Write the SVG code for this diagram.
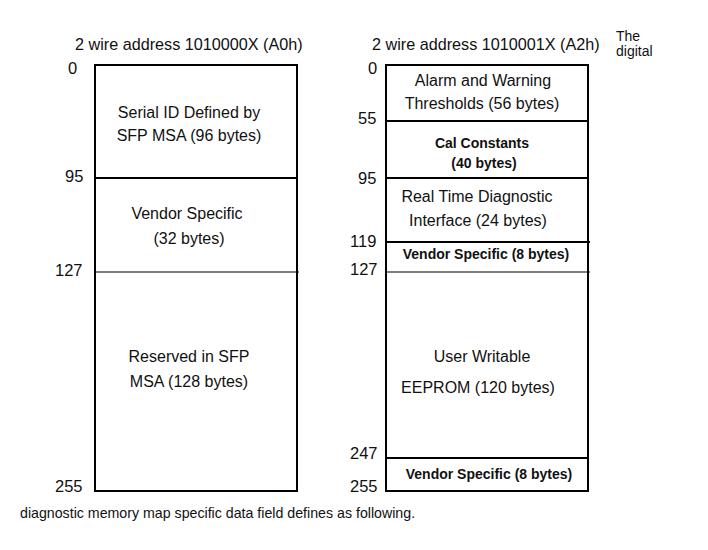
<svg xmlns="http://www.w3.org/2000/svg" width="708" height="550" viewBox="0 0 708 550">
<style>
text{font-family:"Liberation Sans",Arial,sans-serif;fill:#111}
.h{font-size:16.2px}
.n{font-size:16.5px}
.l{font-size:16px;text-anchor:middle}
.b{font-size:14px;font-weight:bold;text-anchor:middle}
.box{fill:#fff;stroke:#000;stroke-width:2}
.thick{stroke:#000;stroke-width:2.2}
.thin{stroke:#000;stroke-width:1.2}
</style>
<rect width="708" height="550" fill="#fff"/>
<text class="h" x="75" y="50">2 wire address 1010000X (A0h)</text>
<text class="h" x="372" y="50">2 wire address 1010001X (A2h)</text>
<text x="616" y="41" font-size="14">The</text>
<text x="616" y="56" font-size="14">digital</text>
<g id="left-map">
<rect class="box" x="95" y="65" width="202" height="426"/>
<line class="thick" x1="95" y1="178" x2="297" y2="178"/>
<line class="thin" x1="95" y1="272" x2="299" y2="272"/>
<text class="n" x="68" y="74">0</text>
<text class="n" x="65" y="182">95</text>
<text class="n" x="55" y="276">127</text>
<text class="n" x="55" y="492">255</text>
</g>
<g id="a0-serial-id"><text class="l" x="189" y="118">Serial ID Defined by</text><text class="l" x="189" y="141">SFP MSA (96 bytes)</text></g>
<g id="a0-vendor"><text class="l" x="187" y="219">Vendor Specific</text><text class="l" x="189" y="244">(32 bytes)</text></g>
<g id="a0-reserved"><text class="l" x="189" y="362">Reserved in SFP</text><text class="l" x="189" y="387">MSA (128 bytes)</text></g>
<g id="right-map">
<rect class="box" x="386" y="65" width="202" height="426"/>
<line class="thick" x1="386" y1="121" x2="588" y2="121"/>
<line class="thick" x1="386" y1="178" x2="588" y2="178"/>
<line class="thick" x1="386" y1="242" x2="590" y2="242"/>
<line class="thin" x1="386" y1="272" x2="590" y2="272"/>
<line class="thick" x1="386" y1="458" x2="588" y2="458"/>
<text class="n" x="368" y="74">0</text>
<text class="n" x="358" y="124">55</text>
<text class="n" x="358" y="184">95</text>
<text class="n" x="350" y="247">119</text>
<text class="n" x="350" y="275">127</text>
<text class="n" x="350" y="459">247</text>
<text class="n" x="350" y="492">255</text>
</g>
<g id="a2-alarm"><text class="l" x="483" y="86">Alarm and Warning</text><text class="l" x="482" y="109">Thresholds (56 bytes)</text></g>
<g id="a2-cal"><text class="b" x="482" y="148">Cal Constants</text><text class="b" x="484" y="168">(40 bytes)</text></g>
<g id="a2-rtdi"><text class="l" x="477" y="202">Real Time Diagnostic</text><text class="l" x="478" y="226">Interface (24 bytes)</text></g>
<g id="a2-vendor1"><text class="b" x="486" y="259">Vendor Specific (8 bytes)</text></g>
<g id="a2-user"><text class="l" x="482" y="362">User Writable</text><text class="l" x="478" y="393">EEPROM (120 bytes)</text></g>
<g id="a2-vendor2"><text class="b" x="489" y="479">Vendor Specific (8 bytes)</text></g>
<g id="connectors"/>
<text x="20" y="518" font-size="14.2">diagnostic memory map specific data field defines as following.</text>
</svg>
